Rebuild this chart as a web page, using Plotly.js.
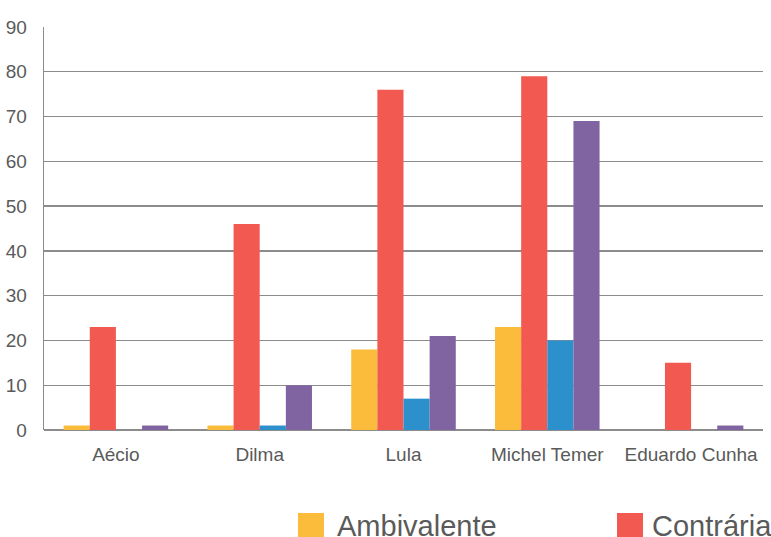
<!DOCTYPE html>
<html>
<head>
<meta charset="utf-8">
<script src="https://cdn.plot.ly/plotly-3.0.1.min.js"></script>
<style>html,body{margin:0;padding:0;background:#fff;}#chart{width:771px;height:537px;}</style>
</head>
<body>
<div id="chart"></div>
<script>
const categories = ["Aécio", "Dilma", "Lula", "Michel Temer", "Eduardo Cunha"];
const seriesNames = ["Ambivalente", "Contrária", "Favorável", "Neutra"];
const ambivalente = [1, 1, 18, 23, 0];
const contraria = [23, 46, 76, 79, 15];
const favoravel = [0, 1, 7, 20, 0];
const neutra = [1, 10, 21, 69, 1];
const colors = ["#FBBC3B", "#F25A51", "#2C90CD", "#8064A2"];
const yTicks = [0, 10, 20, 30, 40, 50, 60, 70, 80, 90];

const W = 771, H = 537;
const M = {l: 44, r: 8, t: 27, b: 107};
const pw = W - M.l - M.r, ph = H - M.t - M.b;
const px = x => (x - M.l) / pw;
const py = y => (H - M.b - y) / ph;

const values = [ambivalente, contraria, favoravel, neutra];
const data = values.map((v, i) => ({
  type: "bar", x: categories, y: v, name: seriesNames[i],
  marker: {color: colors[i]}, hoverinfo: "x+y+name"
}));

// custom legend (only the two entries visible in the frame)
const legendItems = [{i: 0, sx: 298, tx: 335}, {i: 1, sx: 617, tx: 650}];
const shapes = legendItems.map(it => ({
  type: "rect", xref: "paper", yref: "paper",
  x0: px(it.sx), x1: px(it.sx + 26), y0: py(540), y1: py(513),
  fillcolor: colors[it.i], line: {width: 0}
}));
const annotations = legendItems.map(it => ({
  xref: "paper", yref: "paper", x: px(it.tx), y: py(526),
  xanchor: "left", yanchor: "middle", showarrow: false,
  text: seriesNames[it.i],
  font: {family: "Liberation Sans, Arial, sans-serif", size: 29, color: "#5a5a5a"}
}));

const layout = {
  width: W, height: H,
  margin: M,
  paper_bgcolor: "#ffffff", plot_bgcolor: "#ffffff",
  barmode: "group", bargap: 0.273, bargroupgap: 0,
  showlegend: false,
  font: {family: "Liberation Sans, Arial, sans-serif", size: 19, color: "#5a5a5a"},
  xaxis: {
    type: "category", showgrid: false, zeroline: false, showline: false,
    ticks: "", ticklabelstandoff: 11, tickfont: {size: 19, color: "#5a5a5a"}
  },
  yaxis: {
    range: [0, 90], tickvals: yTicks, ticktext: yTicks.map(String),
    showgrid: true, gridcolor: "#8c8c8c", gridwidth: 1.3,
    zeroline: true, zerolinecolor: "#8c8c8c", zerolinewidth: 1.3,
    showline: true, linecolor: "#8c8c8c", linewidth: 1.3,
    ticks: "", ticklabelstandoff: 12,
    tickfont: {size: 19, color: "#5a5a5a"}
  },
  shapes: shapes,
  annotations: annotations
};

Plotly.newPlot("chart", data, layout, {displayModeBar: false, staticPlot: true});
</script>
</body>
</html>
